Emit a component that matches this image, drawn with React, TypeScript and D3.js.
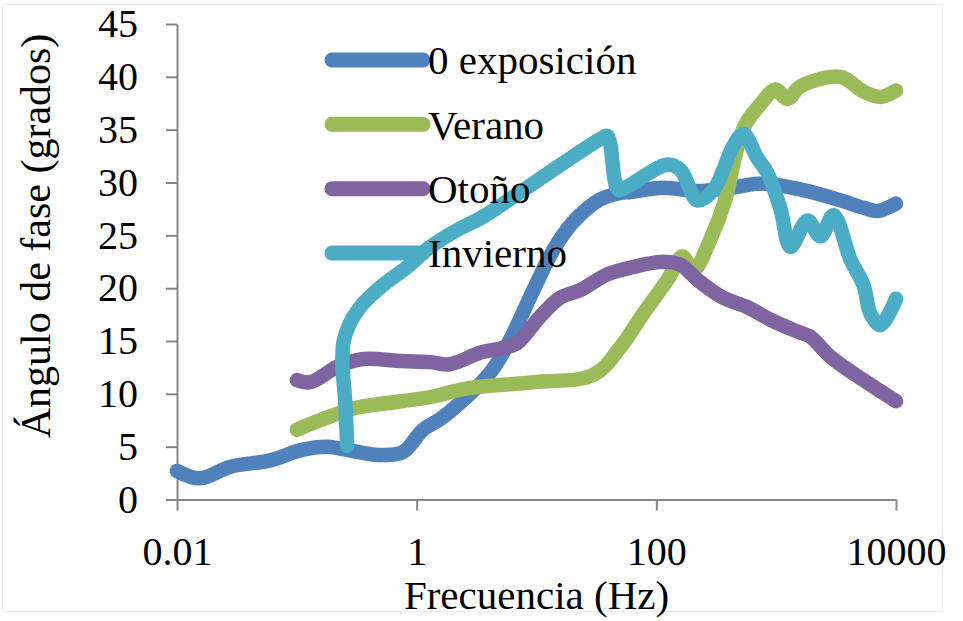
import React, { useRef, useEffect } from 'react';
import * as d3 from 'd3';

// Legend / series names
const seriesNames = ['0 exposición', 'Verano', 'Otoño', 'Invierno'];
const seriesColors = ['#4F81BD', '#9BBB59', '#8064A2', '#4BACC6'];

// 0 exposición
const blueFreq = [0.01, 0.0155, 0.028, 0.06, 0.11, 0.18, 0.32, 0.52, 0.77, 1.13, 1.66, 4.1, 6.0, 9.4, 13.8, 20, 34, 50, 61, 114, 220, 415, 780, 1650, 3250, 5350, 7000, 10000];
const blueVals = [2.7, 2.0, 3.1, 3.7, 4.7, 5.0, 4.5, 4.2, 4.5, 6.6, 7.8, 12.0, 15.1, 19.8, 23.6, 26.2, 28.4, 29.0, 29.1, 29.5, 29.2, 29.5, 29.9, 29.3, 28.4, 27.6, 27.3, 28.0];

// Verano
const greenFreq = [0.1, 0.156, 0.32, 0.75, 1.3, 2.6, 9.4, 30, 50, 78, 124, 165, 204, 282, 377, 457, 554, 739, 986, 1242, 1596, 3440, 5350, 7430, 10000];
const greenVals = [6.6, 7.5, 8.7, 9.3, 9.7, 10.5, 11.1, 11.8, 14.4, 17.6, 20.8, 23.0, 21.7, 24.6, 28.4, 32.6, 35.5, 37.4, 38.8, 37.9, 39.1, 40.0, 38.6, 38.1, 38.7];

// Otoño
const purpleFreq = [0.1, 0.13, 0.22, 0.36, 0.75, 1.3, 1.9, 3.4, 5.0, 6.9, 10.7, 15.8, 23, 39, 64, 114, 160, 220, 360, 575, 900, 1500, 1930, 2840, 5350, 10000];
const purpleVals = [11.3, 11.1, 12.6, 13.3, 13.1, 13.0, 12.8, 13.9, 14.3, 14.8, 17.3, 19.1, 19.8, 21.3, 22.0, 22.5, 22.2, 20.8, 19.1, 18.2, 17.0, 15.9, 15.4, 13.5, 11.3, 9.3];

// Invierno
const cyanFreq = [0.263, 0.252, 0.24, 0.245, 0.275, 0.337, 0.5, 0.83, 1.3, 2.18, 3.39, 4.98, 13, 34, 39, 48, 57, 124, 159, 220, 300, 440, 533, 697, 845, 1086, 1316, 1824, 2343, 3010, 4170, 5350, 6120, 7430, 10000];
const cyanVals = [5.1, 9.7, 12.8, 14.9, 16.6, 18.2, 20.1, 22.0, 23.9, 25.5, 26.6, 27.8, 31.0, 34.1, 34.4, 29.3, 29.6, 31.7, 31.2, 28.3, 29.3, 33.5, 34.6, 32.3, 30.9, 27.5, 23.9, 26.4, 24.9, 26.9, 22.7, 20.3, 17.6, 16.5, 19.0];

const xTicks = [0.01, 1, 100, 10000];
const yTicks = [0, 5, 10, 15, 20, 25, 30, 35, 40, 45];

const xTitle = 'Frecuencia (Hz)';
const yTitle = 'Ángulo de fase (grados)';

const WIDTH = 963;
const HEIGHT = 621;
const FONT = "'Liberation Serif', 'Times New Roman', Times, Tinos, 'Noto Serif', 'DejaVu Serif', FreeSerif, Georgia, serif";

const App = () => {
  const svgRef = useRef<SVGSVGElement>(null);

  useEffect(() => {
    const svg = d3.select(svgRef.current);
    svg.selectAll('*').remove();

    const x = d3.scaleLog().domain([0.01, 10000]).range([177, 896]);
    const y = d3.scaleLinear().domain([0, 45]).range([499.5, 24]);

    // faint frame around the picture
    svg.append('rect')
      .attr('x', 2.5).attr('y', 4.5)
      .attr('width', 940).attr('height', 607)
      .attr('fill', 'none')
      .attr('stroke', '#eeeeee')
      .attr('stroke-width', 1);

    // axes
    const xAxis = svg.append('g')
      .attr('transform', `translate(0, ${y(0)})`)
      .call(d3.axisBottom(x).tickValues(xTicks).tickFormat((d: any) => String(d)).tickSize(11).tickSizeOuter(0).tickPadding(26));

    const yAxis = svg.append('g')
      .attr('transform', `translate(${x(0.01)}, 0)`)
      .call(d3.axisLeft(y).tickValues(yTicks).tickSize(11).tickSizeOuter(0).tickPadding(28));

    [xAxis, yAxis].forEach(a => {
      a.attr('font-family', null).attr('font-size', null);
      a.select('.domain').attr('stroke', '#868686').attr('stroke-width', 2);
      a.selectAll('.tick line').attr('stroke', '#868686').attr('stroke-width', 2);
      a.selectAll('.tick text')
        .attr('fill', '#000')
        .style('font-family', FONT)
        .style('font-size', '40px');
    });

    // series lines
    const series = [
      { f: blueFreq, v: blueVals },
      { f: greenFreq, v: greenVals },
      { f: purpleFreq, v: purpleVals },
      { f: cyanFreq, v: cyanVals },
    ];

    const gen = d3.line<[number, number]>()
      .x(d => d[0])
      .y(d => d[1])
      .curve(d3.curveCatmullRom.alpha(0.5));

    series.forEach((s, k) => {
      const pts: [number, number][] = s.f.map((f, i) => [x(f), y(s.v[i])]);
      svg.append('path')
        .attr('d', gen(pts))
        .attr('fill', 'none')
        .attr('stroke', seriesColors[k])
        .attr('stroke-width', 14.5)
        .attr('stroke-linecap', 'round')
        .attr('stroke-linejoin', 'round');
    });

    // legend
    const legend = svg.append('g');
    const legendY = d3.scaleLinear().domain([0, 3]).range([60, 253]);
    seriesNames.forEach((name, i) => {
      legend.append('line')
        .attr('x1', 332).attr('x2', 423)
        .attr('y1', legendY(i)).attr('y2', legendY(i))
        .attr('stroke', seriesColors[i])
        .attr('stroke-width', 15)
        .attr('stroke-linecap', 'round');
      legend.append('text')
        .attr('x', 428)
        .attr('y', legendY(i))
        .attr('dy', '0.35em')
        .style('font-family', FONT)
        .style('font-size', '41px')
        .attr('fill', '#000')
        .text(name);
    });

    // axis titles
    svg.append('text')
      .attr('x', (x(0.01) + x(10000)) / 2)
      .attr('y', 609)
      .attr('text-anchor', 'middle')
      .style('font-family', FONT)
      .style('font-size', '41px')
      .attr('fill', '#000')
      .text(xTitle);

    svg.append('text')
      .attr('transform', 'translate(50, 236) rotate(-90)')
      .attr('text-anchor', 'middle')
      .style('font-family', FONT)
      .style('font-size', '42px')
      .attr('fill', '#000')
      .text(yTitle);
  }, []);

  return (
    <svg
      ref={svgRef}
      width={WIDTH}
      height={HEIGHT}
      style={{ position: 'absolute', left: 0, top: 0, background: '#fff' }}
    />
  );
};

export default App;
